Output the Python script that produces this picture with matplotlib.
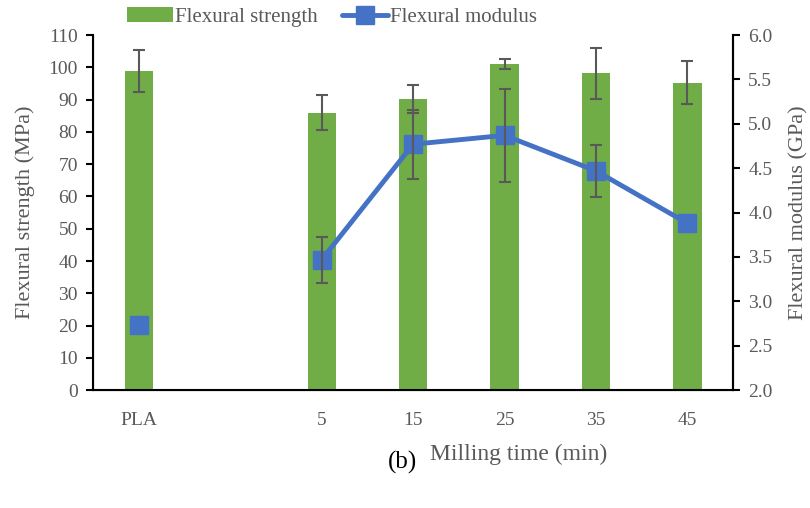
import numpy as np
import matplotlib.pyplot as plt

plt.rcParams['font.family'] = ['Liberation Serif', 'DejaVu Serif']

# data
categorias = ['PLA', '', '5', '15', '25', '35', '45']
resistencia = [98.9, np.nan, 86.0, 90.3, 101.0, 98.1, 95.3]
resistencia_err = [6.6, 0, 5.4, 4.3, 1.5, 7.8, 6.7]
modulo = [2.73, np.nan, 3.47, 4.77, 4.87, 4.47, 3.88]
modulo_err = [np.nan, np.nan, 0.26, 0.39, 0.52, 0.29, np.nan]

verde = '#70AD47'
azul = '#4472C4'
gris = '#595959'

fig = plt.figure(figsize=(8.10, 5.08), dpi=100)
ax = fig.add_axes([0.115, 0.232, 0.79, 0.699])
x = np.arange(len(categorias))

ax.bar(x, np.nan_to_num(resistencia), width=0.31, color=verde, label='Flexural strength', zorder=2)
mask = ~np.isnan(resistencia)
ax.errorbar(x[mask], np.array(resistencia)[mask], yerr=np.array(resistencia_err)[mask],
            fmt='none', ecolor=gris, elinewidth=1.5, capsize=4, capthick=1.5, zorder=3)

ax.set_ylim(0, 110)
ax.set_yticks(np.arange(0, 111, 10))
ax.set_xlim(-0.5, len(categorias) - 0.5)
ax.set_xticks(x)
ax.set_xticklabels(categorias)
ax.tick_params(axis='x', length=0, pad=16, labelsize=14, labelcolor=gris)
ax.tick_params(axis='y', direction='out', length=5, width=1.5, labelsize=14, labelcolor=gris, pad=6)
ax.set_ylabel('Flexural strength (MPa)', fontsize=16, color=gris, labelpad=10)
ax.set_xlabel('Milling time (min)', fontsize=17, color=gris)
ax.xaxis.set_label_coords(0.665, -0.15)
for s in ['left', 'bottom', 'right']:
    ax.spines[s].set_linewidth(1.5)
ax.spines['top'].set_visible(False)

ax2 = ax.twinx()
ax2.plot(x, modulo, color=azul, lw=3.5, marker='s', markersize=13, label='Flexural modulus',
         solid_capstyle='round', solid_joinstyle='round', zorder=4)
m2 = ~np.isnan(modulo_err)
ax2.errorbar(x[m2], np.array(modulo)[m2], yerr=np.array(modulo_err)[m2], fmt='none', ecolor=gris,
             elinewidth=1.5, capsize=4, capthick=1.5, zorder=5)
ax2.set_ylim(2.0, 6.0)
ax2.set_yticks(np.arange(2.0, 6.01, 0.5))
ax2.set_yticklabels([f'{v:.1f}' for v in np.arange(2.0, 6.01, 0.5)])
ax2.tick_params(axis='y', direction='out', length=5, width=1.5, labelsize=14, labelcolor=gris, pad=6)
ax2.set_ylabel('Flexural modulus (GPa)', fontsize=16, color=gris, labelpad=12)
ax2.spines['right'].set_linewidth(1.5)
ax2.spines['top'].set_visible(False)

h1, l1 = ax.get_legend_handles_labels()
h2, l2 = ax2.get_legend_handles_labels()
fig.legend(h1 + h2, l1 + l2, loc='center', bbox_to_anchor=(0.41, 0.966), ncol=2,
           frameon=False, fontsize=15, labelcolor=gris, handlelength=2.2,
           columnspacing=1.2, handletextpad=0.1)

fig.text(0.497, 0.09, '(b)', fontsize=18, ha='center', va='center')

fig.savefig('out.png', dpi=100)
